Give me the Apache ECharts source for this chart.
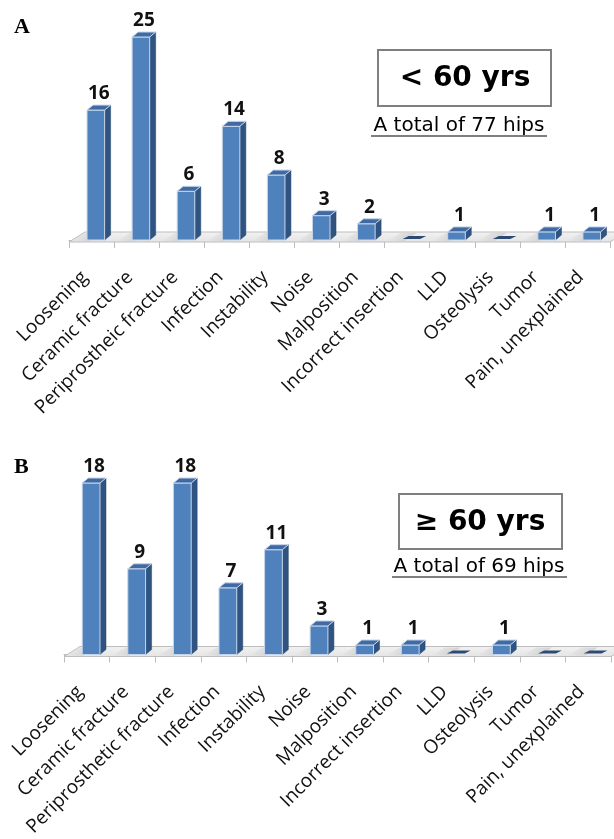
<!DOCTYPE html>
<html>
<head>
<meta charset="utf-8">
<script src="https://cdn.jsdelivr.net/npm/echarts@6/dist/echarts.min.js"></script>
<style>
  html, body { margin: 0; padding: 0; background: #fff; }
  #main { width: 614px; height: 839px; }
</style>
</head>
<body>
<div id="main"></div>
<script>
var categoriesA = ['Loosening', 'Ceramic fracture', 'Periprostheic fracture', 'Infection', 'Instability', 'Noise',
  'Malposition', 'Incorrect insertion', 'LLD', 'Osteolysis', 'Tumor', 'Pain, unexplained'];
var valuesA = [16, 25, 6, 14, 8, 3, 2, 0, 1, 0, 1, 1];

var categoriesB = ['Loosening', 'Ceramic fracture', 'Periprosthetic fracture', 'Infection', 'Instability', 'Noise',
  'Malposition', 'Incorrect insertion', 'LLD', 'Osteolysis', 'Tumor', 'Pain, unexplained'];
var valuesB = [18, 9, 18, 7, 11, 3, 1, 1, 0, 1, 0, 0];

var myChart = echarts.init(document.getElementById('main'));

// 3d-ish bar: floor shadow, front face, side face, top cap
function renderBar(params, api) {
  var idx = api.value(0);
  var val = api.value(1);
  var base = api.coord([idx, 0]);
  var top = api.coord([idx, val]);
  var band = api.size([1, 0])[0];
  var x0 = base[0] - band / 2 + band * 0.4;
  var w = band * 0.39;
  var dx = 6, dy = 5;
  var y0 = base[1], y1 = top[1];
  var children = [];
  // soft shadow on the floor
  children.push({
    type: 'polygon',
    shape: { points: [[x0 - 16, y0 + 1], [x0 + 2, y0 + 1], [x0 + 14, y0 - 7], [x0 - 2, y0 - 7]] },
    style: {
      fill: new echarts.graphic.LinearGradient(0, 0, 1, 0, [
        { offset: 0, color: 'rgba(0,0,0,0)' },
        { offset: 1, color: 'rgba(0,0,0,0.13)' }
      ])
    }
  });
  if (val > 0) {
    children.push({
      type: 'polygon',
      shape: { points: [[x0 + w, y1], [x0 + w + dx, y1 - dy], [x0 + w + dx, y0 - dy], [x0 + w, y0]] },
      style: { fill: '#2f5482', stroke: '#27466d', lineWidth: 0.5 }
    });
    children.push({
      type: 'rect',
      shape: { x: x0, y: y1, width: w, height: y0 - y1 },
      style: { fill: '#4f81bd', stroke: '#c8d6ea', lineWidth: 1 }
    });
    children.push({
      type: 'polygon',
      shape: { points: [[x0, y1], [x0 + w, y1], [x0 + w + dx, y1 - dy], [x0 + dx, y1 - dy]] },
      style: { fill: '#3f6aa3', stroke: '#c8d6ea', lineWidth: 1 }
    });
    children.push({
      type: 'text',
      style: {
        text: String(val),
        x: x0 + w / 2 + dx / 2,
        y: y1 - dy - 2,
        align: 'center', verticalAlign: 'bottom',
        textAlign: 'center', textVerticalAlign: 'bottom',
        font: 'bold 19px "Open Sans"',
        fill: '#111'
      }
    });
  } else {
    children.push({
      type: 'polygon',
      shape: { points: [[x0, y0 - 1], [x0 + w, y0 - 1], [x0 + w + dx, y0 - dy + 1], [x0 + dx, y0 - dy + 1]] },
      style: { fill: '#2c4a73' }
    });
  }
  return { type: 'group', children: children };
}

// floor plane under the bars
function renderFloor(params, api) {
  var cs = params.coordSys;
  var y0 = cs.y + cs.height;
  var l = cs.x, r = cs.x + cs.width;
  return {
    type: 'group',
    children: [{
      type: 'polygon',
      shape: { points: [[l, y0 + 2], [r, y0 + 2], [r + 16, y0 - 8], [l + 16, y0 - 8]] },
      style: {
        fill: new echarts.graphic.LinearGradient(0, 0, 0, 1, [
          { offset: 0, color: '#f2f2f2' },
          { offset: 1, color: '#e4e4e4' }
        ]),
        stroke: '#bdbdbd', lineWidth: 1
      }
    }]
  };
}

function xAxisFor(cats, gridIndex) {
  return {
    type: 'category',
    gridIndex: gridIndex,
    data: cats,
    offset: 2,
    axisLine: { show: true, lineStyle: { color: '#bdbdbd', width: 1 } },
    axisTick: { show: true, length: 8, interval: 0, lineStyle: { color: '#bdbdbd' } },
    axisLabel: {
      interval: 0,
      rotate: 45,
      margin: 39,
      verticalAlign: 'bottom',
      fontFamily: 'Open Sans',
      fontSize: 19,
      color: '#111'
    },
    splitLine: { show: false }
  };
}

function pairs(vals) {
  return vals.map(function (v, i) { return [i, v]; });
}

var option = {
  animation: false,
  grid: [
    { left: 69, width: 541, top: 37, height: 203 },
    { left: 64, width: 547, top: 483, height: 177 }
  ],
  xAxis: [xAxisFor(categoriesA, 0), xAxisFor(categoriesB, 1)],
  yAxis: [
    { type: 'value', gridIndex: 0, min: 0, max: 25, show: false },
    { type: 'value', gridIndex: 1, min: 0, max: 18, show: false }
  ],
  series: [
    { type: 'custom', xAxisIndex: 0, yAxisIndex: 0, renderItem: renderFloor, data: [[0, 0]], z: 1, silent: true },
    { type: 'custom', xAxisIndex: 0, yAxisIndex: 0, renderItem: renderBar, data: pairs(valuesA), encode: { x: 0, y: 1 }, z: 3 },
    { type: 'custom', xAxisIndex: 1, yAxisIndex: 1, renderItem: renderFloor, data: [[0, 0]], z: 1, silent: true },
    { type: 'custom', xAxisIndex: 1, yAxisIndex: 1, renderItem: renderBar, data: pairs(valuesB), encode: { x: 0, y: 1 }, z: 3 }
  ],
  graphic: [
    { type: 'text', x: 14, y: 27, style: { text: 'A', font: 'bold 22px "Liberation Serif"', fill: '#000', textVerticalAlign: 'middle', verticalAlign: 'middle' } },
    { type: 'text', x: 14, y: 467, style: { text: 'B', font: 'bold 22px "Liberation Serif"', fill: '#000', textVerticalAlign: 'middle', verticalAlign: 'middle' } },

    { type: 'rect', shape: { x: 378, y: 50, width: 173, height: 56 }, style: { fill: '#fff', stroke: '#7f7f7f', lineWidth: 2 } },
    { type: 'text', x: 465, y: 79, style: { text: '< 60 yrs', font: 'bold 28px "DejaVu Sans"', fill: '#000', align: 'center', verticalAlign: 'middle', textAlign: 'center', textVerticalAlign: 'middle' } },
    { type: 'text', x: 459, y: 126, style: { text: 'A total of 77 hips', font: '20px "DejaVu Sans"', fill: '#000', align: 'center', verticalAlign: 'middle', textAlign: 'center', textVerticalAlign: 'middle' } },
    { type: 'line', shape: { x1: 371, y1: 136, x2: 547, y2: 136 }, style: { stroke: '#000', lineWidth: 1.2 } },

    { type: 'rect', shape: { x: 399, y: 494, width: 163, height: 55 }, style: { fill: '#fff', stroke: '#7f7f7f', lineWidth: 2 } },
    { type: 'text', x: 480, y: 523, style: { text: '≥ 60 yrs', font: 'bold 28px "DejaVu Sans"', fill: '#000', align: 'center', verticalAlign: 'middle', textAlign: 'center', textVerticalAlign: 'middle' } },
    { type: 'text', x: 479, y: 567, style: { text: 'A total of 69 hips', font: '20px "DejaVu Sans"', fill: '#000', align: 'center', verticalAlign: 'middle', textAlign: 'center', textVerticalAlign: 'middle' } },
    { type: 'line', shape: { x1: 392, y1: 577, x2: 567, y2: 577 }, style: { stroke: '#000', lineWidth: 1.2 } }
  ]
};
myChart.setOption(option);
</script>
</body>
</html>
